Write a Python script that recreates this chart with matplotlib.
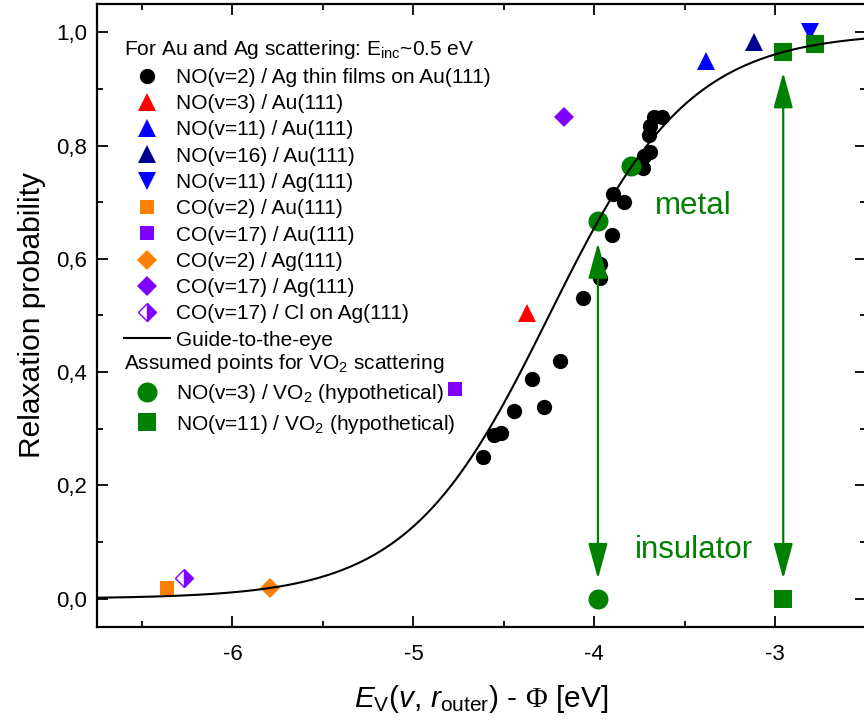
import numpy as np
import matplotlib
matplotlib.use("Agg")
import matplotlib.pyplot as plt
from matplotlib.lines import Line2D
from matplotlib.patches import FancyArrowPatch
from matplotlib.ticker import FuncFormatter, MultipleLocator

plt.rcParams["font.family"] = ["Liberation Sans", "DejaVu Sans"]
plt.rcParams["mathtext.fontset"] = "custom"
plt.rcParams["mathtext.rm"] = "Liberation Sans"
plt.rcParams["mathtext.it"] = "Liberation Sans:italic"
plt.rcParams["mathtext.sf"] = "Liberation Serif"
plt.rcParams["axes.unicode_minus"] = False

# NO(v=2) / Ag thin films on Au(111)
no2_film_x = [-4.615, -4.555, -4.516, -4.445, -4.346, -4.28, -4.192, -4.06,
              -3.967, -3.967, -3.90, -3.835, -3.896, -3.73, -3.725, -3.692,
              -3.698, -3.692, -3.67, -3.626]
no2_film_y = [0.250, 0.289, 0.292, 0.331, 0.388, 0.338, 0.419, 0.531,
              0.566, 0.591, 0.642, 0.700, 0.715, 0.761, 0.781, 0.788,
              0.819, 0.834, 0.851, 0.850]

no3_au_x, no3_au_y = [-4.374], [0.504]
no11_au_x, no11_au_y = [-3.385], [0.949]
no16_au_x, no16_au_y = [-3.115], [0.982]
no11_ag_x, no11_ag_y = [-2.81], [1.0]
co2_au_x, co2_au_y = [-6.363], [0.019]
co17_au_x, co17_au_y = [-4.77], [0.370]
co2_ag_x, co2_ag_y = [-5.79], [0.019]
co17_ag_x, co17_ag_y = [-4.17], [0.851]
co17_cl_x, co17_cl_y = [-6.27], [0.037]

# hypothetical VO2 points (metal and insulator)
vo2_no3_x, vo2_no3_y = [-3.98, -3.80, -3.98], [0.666, 0.763, 0.0]
vo2_no11_x, vo2_no11_y = [-2.956, -2.78, -2.956], [0.966, 0.980, 0.0]

# arrows between insulator and metal
arrow_x = [-3.98, -2.956]
arrow_top = [0.628, 0.929]
arrow_bottom = [0.035, 0.035]

# guide-to-the-eye (logistic)
guide_x0 = -4.25
guide_dx = 0.39

GREEN = "#008000"
ORANGE = "#FF8000"
PURPLE = "#8000FF"
NAVY = "#000090"

fig = plt.figure(figsize=(8.64, 7.27), dpi=100)
ax = fig.add_axes([0.112, 0.1376, 0.89, 0.857])

ax.plot(no2_film_x, no2_film_y, "o", color="black", ms=11, mew=0, zorder=3)
ax.plot(no3_au_x, no3_au_y, "^", color="red", ms=12.5, mew=0, zorder=3)
ax.plot(no11_au_x, no11_au_y, "^", color="blue", ms=12.5, mew=0, zorder=3)
ax.plot(no16_au_x, no16_au_y, "^", color=NAVY, ms=12.5, mew=0, zorder=3)
ax.plot(no11_ag_x, no11_ag_y, "v", color="blue", ms=12.5, mew=0, zorder=3)
ax.plot(co2_au_x, co2_au_y, "s", color=ORANGE, ms=9.5, mew=0, zorder=3)
ax.plot(co17_au_x, co17_au_y, "s", color=PURPLE, ms=9.5, mew=0, zorder=3)
ax.plot(co2_ag_x, co2_ag_y, "D", color=ORANGE, ms=9.7, mew=0, zorder=3)
ax.plot(co17_ag_x, co17_ag_y, "D", color=PURPLE, ms=9.7, mew=0, zorder=3)
ax.plot(co17_cl_x, co17_cl_y, "D", color=PURPLE, ms=9, mew=1,
        fillstyle="right", markerfacecoloralt="white", zorder=3)
ax.plot(vo2_no3_x, vo2_no3_y, "o", color=GREEN, ms=14.4, mew=0, zorder=3)
ax.plot(vo2_no11_x, vo2_no11_y, "s", color=GREEN, ms=12.7, mew=0, zorder=3)

gx = np.linspace(-6.75, -2.5, 400)
gy = 1.0 / (1.0 + np.exp(-(gx - guide_x0) / guide_dx))
ax.plot(gx, gy, "-", color="black", lw=1.5, zorder=4)

for x, y0, y1 in zip(arrow_x, arrow_bottom, arrow_top):
    arr = FancyArrowPatch((x, y0), (x, y1),
                          arrowstyle="<|-|>,head_length=22,head_width=6",
                          mutation_scale=1, color=GREEN, lw=1.6,
                          shrinkA=0, shrinkB=0, zorder=5)
    ax.add_patch(arr)

ax.text(-3.45, 0.693, "metal", color=GREEN, fontsize=22.5,
        ha="center", va="center")
ax.text(-3.45, 0.086, "insulator", color=GREEN, fontsize=22.5,
        ha="center", va="center")

ax.set_xlim(-6.75, -2.5)
ax.set_ylim(-0.05, 1.05)
ax.xaxis.set_major_locator(MultipleLocator(1))
ax.xaxis.set_minor_locator(MultipleLocator(0.5))
ax.yaxis.set_major_locator(MultipleLocator(0.2))
ax.yaxis.set_minor_locator(MultipleLocator(0.1))
ax.xaxis.set_major_formatter(FuncFormatter(lambda v, p: f"{v:.0f}"))
ax.yaxis.set_major_formatter(
    FuncFormatter(lambda v, p: f"{v:.1f}".replace(".", ",")))
ax.tick_params(which="both", direction="in", top=True, right=True,
               width=1.3, labelsize=16)
ax.tick_params(axis="x", which="both", pad=12)
ax.tick_params(axis="y", which="both", pad=7)
ax.tick_params(which="major", length=8)
ax.tick_params(which="minor", length=4)
for sp in ax.spines.values():
    sp.set_linewidth(1.6)

ax.set_xlabel(r"$E_\mathrm{V}$($v$, $r_\mathrm{outer}$) - $\mathsf{\Phi}$ [eV]",
              fontsize=21.5, labelpad=13)
ax.set_ylabel("Relaxation probability", fontsize=21.5, labelpad=7)

handles1 = [
    Line2D([], [], ls="none", marker="o", color="black", ms=11, mew=0),
    Line2D([], [], ls="none", marker="^", color="red", ms=12.5, mew=0),
    Line2D([], [], ls="none", marker="^", color="blue", ms=12.5, mew=0),
    Line2D([], [], ls="none", marker="^", color=NAVY, ms=12.5, mew=0),
    Line2D([], [], ls="none", marker="v", color="blue", ms=12.5, mew=0),
    Line2D([], [], ls="none", marker="s", color=ORANGE, ms=9.5, mew=0),
    Line2D([], [], ls="none", marker="s", color=PURPLE, ms=9.5, mew=0),
    Line2D([], [], ls="none", marker="D", color=ORANGE, ms=9.7, mew=0),
    Line2D([], [], ls="none", marker="D", color=PURPLE, ms=9.7, mew=0),
    Line2D([], [], ls="none", marker="D", color=PURPLE, ms=9, mew=1,
           fillstyle="right", markerfacecoloralt="white"),
    Line2D([], [], ls="-", color="black", lw=1.5),
]
labels1 = [
    "NO(v=2) / Ag thin films on Au(111)",
    "NO(v=3) / Au(111)",
    "NO(v=11) / Au(111)",
    "NO(v=16) / Au(111)",
    "NO(v=11) / Ag(111)",
    "CO(v=2) / Au(111)",
    "CO(v=17) / Au(111)",
    "CO(v=2) / Ag(111)",
    "CO(v=17) / Ag(111)",
    "CO(v=17) / Cl on Ag(111)",
    "Guide-to-the-eye",
]
handles2 = [
    Line2D([], [], ls="none", marker="o", color=GREEN, ms=14.4, mew=0),
    Line2D([], [], ls="none", marker="s", color=GREEN, ms=12.7, mew=0),
]
labels2 = [
    r"NO(v=3) / VO$_2$ (hypothetical)",
    r"NO(v=11) / VO$_2$ (hypothetical)",
]

leg_kw = dict(loc="upper left", frameon=False, fontsize=15,
              title_fontsize=15, alignment="left", borderpad=0,
              borderaxespad=0, handlelength=2.2, handletextpad=0.3,
              labelspacing=0.35)
leg1 = ax.legend(handles1, labels1,
                 title=r"For Au and Ag scattering: E$_\mathrm{inc}$~0.5 eV",
                 bbox_to_anchor=(0.035, 0.946), **leg_kw)
ax.add_artist(leg1)
ax.legend(handles2, labels2, title=r"Assumed points for VO$_2$ scattering",
          bbox_to_anchor=(0.035, 0.441), **leg_kw)

fig.savefig("out.png", dpi=100)
